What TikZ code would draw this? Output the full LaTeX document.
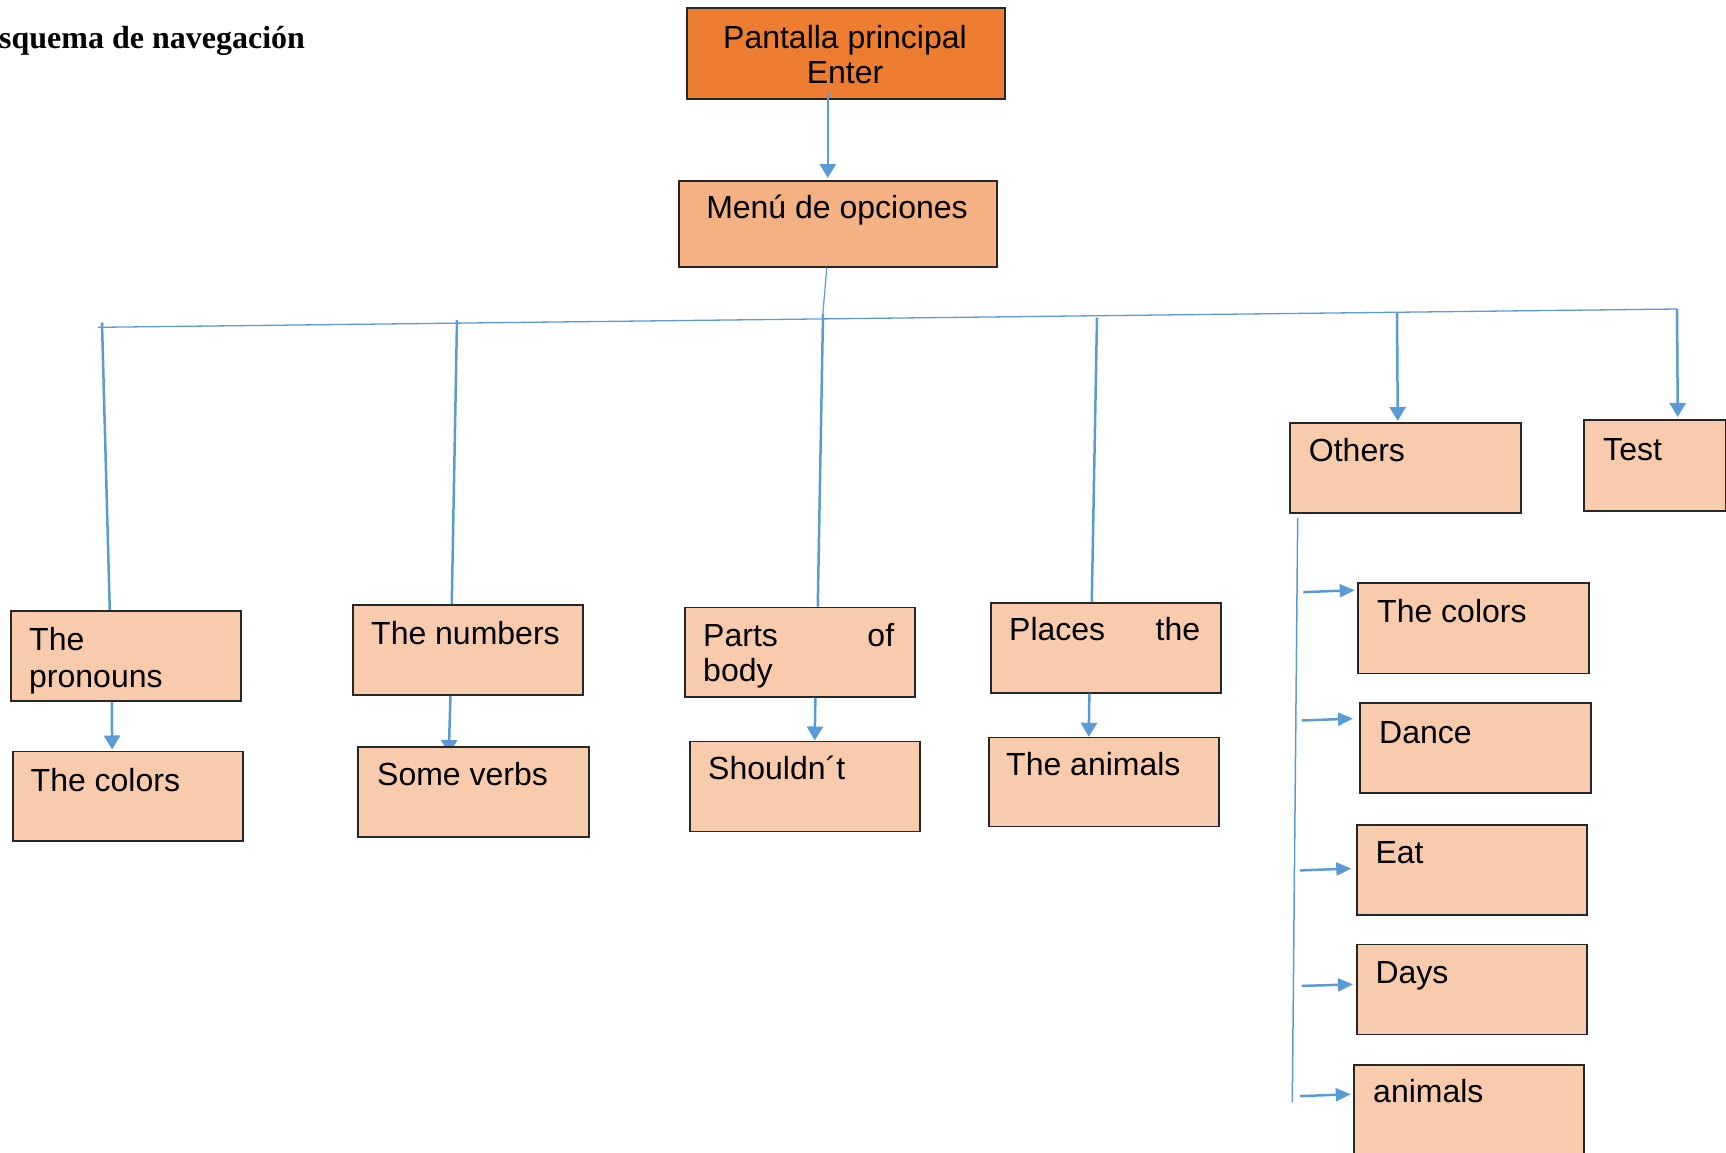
\documentclass[tikz,border=0pt]{standalone}
\usepackage{fontspec}
\setmainfont{Liberation Sans}
\newfontfamily\titlefont{Liberation Serif}
\usetikzlibrary{arrows.meta,backgrounds}
\definecolor{orangeA}{HTML}{ED7D31}
\definecolor{orangeB}{HTML}{F4B183}
\definecolor{orangeC}{HTML}{F8CBAD}
\definecolor{linkblue}{HTML}{5B9BD5}
\definecolor{edgecol}{HTML}{262626}
\tikzset{
 box/.style={draw=edgecol, line width=1.5pt, fill=orangeC, anchor=north west, inner sep=0pt, minimum width=230pt, minimum height=90pt},
 txt/.style={anchor=base west, inner sep=0pt, font=\fontsize{32}{36}\selectfont},
 ctxt/.style={txt, anchor=base},
 link/.style={draw=linkblue, line width=2.5pt},
 arr/.style={link, -{Triangle[width=16pt,length=14pt]}},
 sarr/.style={link, -{Triangle[width=13pt,length=15pt]}},
 thinlink/.style={draw=linkblue, line width=1.2pt},
}
\begin{document}
\begin{tikzpicture}[x=1pt,y=-1pt]
\clip (0,0) rectangle (1726,1152);
% title
\node[txt, font=\titlefont\bfseries\fontsize{32}{36}\selectfont] (title) at (-1,48) {squema de navegación};
% boxes
\node[box, fill=orangeA, minimum width=318pt, minimum height=91pt] (pant) at (686,7) {};
\node[box, fill=orangeB, minimum width=318pt, minimum height=86pt] (menu) at (678,180) {};
\node[box] (pron) at (10,610) {};
\node[box, minimum height=89.5pt] (col1) at (12,750.5) {};
\node[box] (num) at (352,604) {};
\node[box, minimum width=231pt] (verbs) at (357,746) {};
\node[box, minimum height=89.5pt] (parts) at (684,606.6) {};
\node[box] (should) at (689,740.5) {};
\node[box] (places) at (990,602.2) {};
\node[box, minimum height=89pt] (anim) at (988,736.8) {};
\node[box, minimum width=231pt] (others) at (1289,422) {};
\node[box, minimum width=142pt, minimum height=91pt] (test) at (1583,419) {};
\node[box, minimum width=231pt, minimum height=90.5pt] (col2) at (1357,582) {};
\node[box, minimum width=231pt] (dance) at (1359,702.3) {};
\node[box] (eat) at (1356,824.3) {};
\node[box] (days) at (1356,943.6) {};
\node[box, minimum height=200pt] (anim2) at (1353,1064) {};
% texts
\node[ctxt] (t1) at (845,48) {Pantalla principal};
\node[ctxt] (t2) at (845,83) {Enter};
\node[ctxt] (t3) at (837,218) {Menú de opciones};
\node[txt] (t4) at (29,650) {The};
\node[txt] (t5) at (29,687) {pronouns};
\node[txt] (t6) at (30.5,791.2) {The colors};
\node[txt] (t7) at (371,644.4) {The numbers};
\node[txt] (t8) at (377,785) {Some verbs};
\node[txt] (t9) at (703,646.2) {\hbox to 191pt{Parts\hfill of}};
\node[txt] (t10) at (703,681.3) {body};
\node[txt] (t11) at (708,779.4) {Shouldn´t};
\node[txt] (t12) at (1009,640.7) {\hbox to 191pt{Places\hfill the}};
\node[txt] (t13) at (1006,775.7) {The animals};
\node[txt] (t14) at (1308.7,461.7) {Others};
\node[txt] (t15) at (1603,460) {Test};
\node[txt] (t16) at (1377,622.3) {The colors};
\node[txt] (t17) at (1379,743.9) {Dance};
\node[txt] (t18) at (1375.3,863.9) {Eat};
\node[txt] (t19) at (1375.3,983.6) {Days};
\node[txt] (t20) at (1373,1102.5) {animals};
% coordinates
\coordinate (hub) at (822.6,317);
\coordinate (barL) at (98,327.3);
\coordinate (barR) at (1677,309);
\coordinate (p1) at (102,322.5);
\coordinate (p2) at (457,320);
\coordinate (p3) at (823,314);
\coordinate (p4) at (1097,317.7);
\coordinate (p5) at (1397,312);
\coordinate (vend) at (1292.3,1101.8);
\coordinate (s1) at (1303.3,592.1);
\coordinate (s2) at (1301.7,720.5);
\coordinate (s3) at (1300,870.4);
\coordinate (s4) at (1301.7,985.9);
\coordinate (s5) at (1300,1096.1);
% connectors
\draw[arr] ([xshift=-18pt,yshift=8pt]pant.south) -- ([xshift=-10pt,yshift=2pt]menu.north);
\draw[thinlink] ([xshift=-11pt]menu.south) -- (hub);
\draw[link, line width=1.3pt] (barL) -- (barR);
\draw[link] (p1) -- ([xshift=-16pt]pron.north);
\draw[link] (p2) -- ([xshift=-16pt]num.north);
\draw[link] (p3) -- ([xshift=18pt]parts.north);
\draw[link] (p4) -- ([xshift=-14pt]places.north);
\draw[arr] (p5) -- ([xshift=-7.5pt,yshift=1pt]others.north);
\draw[arr] (barR) -- ([xshift=23pt,yshift=2pt]test.north);
\draw[arr] ([xshift=-14pt]pron.south) -- ([xshift=-15.6pt,yshift=1pt]col1.north);
\begin{pgfonlayer}{background}
\draw[arr] ([xshift=-17.3pt]num.south) -- ([xshift=-24.5pt,yshift=-8pt]verbs.north);
\end{pgfonlayer}
\draw[arr] ([xshift=15.6pt]parts.south) -- ([xshift=10pt]should.north);
\draw[arr] ([xshift=-16.4pt]places.south) -- ([xshift=-15pt]anim.north);
\draw[thinlink, line width=1.5pt] ([xshift=8.7pt,yshift=-4pt]others.south west) -- (vend);
\draw[sarr] (s1) -- ([xshift=-2.3pt,yshift=-8.2pt]col2.north west);
\draw[sarr] (s2) -- ([xshift=-6pt,yshift=-16.3pt]dance.north west);
\draw[sarr] (s3) -- ([xshift=-4.7pt,yshift=-44.2pt]eat.north west);
\draw[sarr] (s4) -- ([xshift=-3pt,yshift=-40.8pt]days.north west);
\draw[sarr] (s5) -- ([xshift=-2.3pt,yshift=-30.2pt]anim2.north west);
\end{tikzpicture}
\end{document}
